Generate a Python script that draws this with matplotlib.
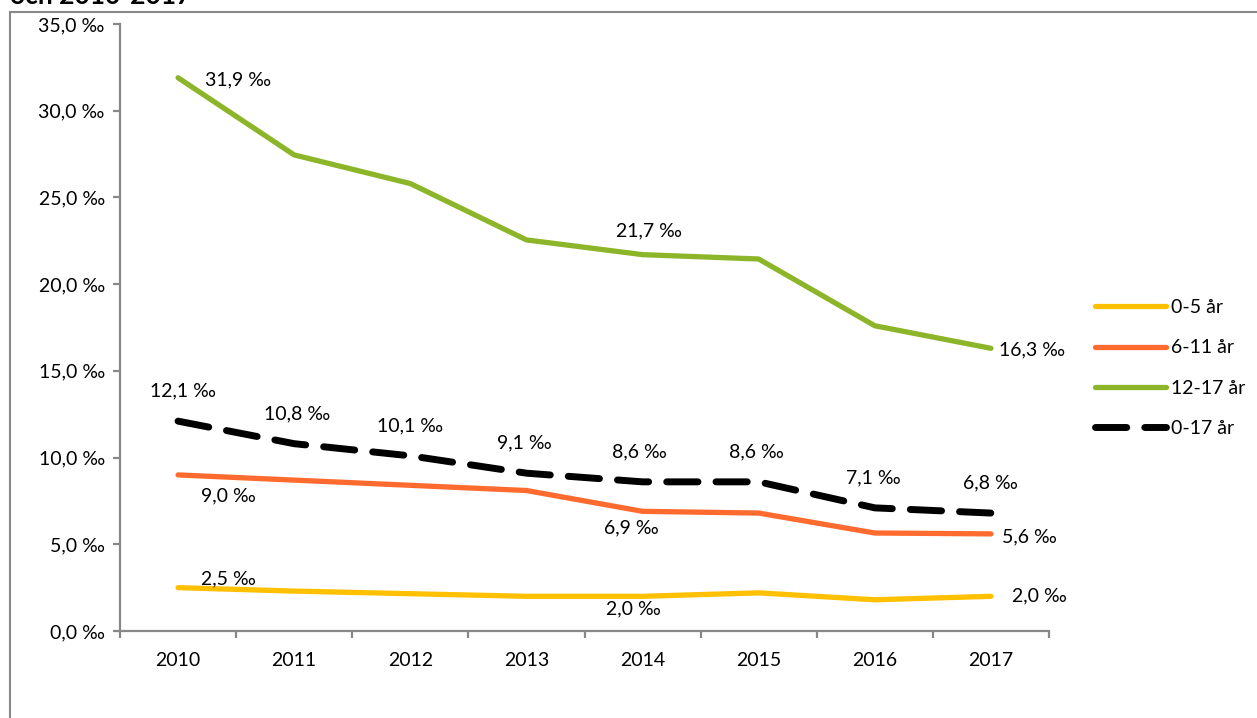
import matplotlib
matplotlib.use("Agg")
import matplotlib.pyplot as plt
from matplotlib.lines import Line2D

plt.rcParams['font.family'] = ['Lato', 'DejaVu Sans']

years = ['2010', '2011', '2012', '2013', '2014', '2015', '2016', '2017']
age_0_5 = [2.5, 2.3, 2.15, 2.0, 2.0, 2.2, 1.8, 2.0]
age_6_11 = [9.0, 8.7, 8.4, 8.1, 6.9, 6.8, 5.65, 5.6]
age_12_17 = [31.9, 27.45, 25.8, 22.55, 21.7, 21.45, 17.6, 16.3]
age_0_17 = [12.1, 10.8, 10.1, 9.1, 8.6, 8.6, 7.1, 6.8]
series_names = ['0-5 år', '6-11 år', '12-17 år', '0-17 år']
yticks = [0, 5, 10, 15, 20, 25, 30, 35]

def fmt(v):
    return f"{v:.1f}".replace('.', ',') + " ‰"

W, H = 1257, 718
fig = plt.figure(figsize=(W / 100, H / 100), dpi=100)
ax = fig.add_axes([120 / W, (H - 631) / H, (1049 - 120) / W, (631 - 24) / H])

x = list(range(len(years)))
c_yel = '#FFC000'
c_org = '#FF6B2E'
c_grn = '#8DB52A'

l1, = ax.plot(x, age_0_5, color=c_yel, lw=3.8, solid_capstyle='round', label=series_names[0])
l2, = ax.plot(x, age_6_11, color=c_org, lw=3.8, solid_capstyle='round', label=series_names[1])
l3, = ax.plot(x, age_12_17, color=c_grn, lw=3.8, solid_capstyle='round', label=series_names[2])
l4, = ax.plot(x, age_0_17, color='black', lw=5, dashes=(4.5, 2.6), dash_capstyle='round',
              label=series_names[3])

fs = 14
def lab(xi, v, dx, dy, ha='center', va='center'):
    ax.annotate(fmt(v), (xi, v), xytext=(dx, dy), textcoords='offset pixels',
                ha=ha, va=va, fontsize=fs, color='black')

# 12-17
lab(0, age_12_17[0], 27, -2, ha='left')
lab(4, age_12_17[4], 6, 24)
lab(7, age_12_17[7], 8, -2, ha='left')
# 0-17 (all above)
dxs = [5, 3, 0, -2, -3, -2, -1, -1]
for i, v in enumerate(age_0_17):
    lab(i, v, dxs[i], 30)
# 6-11
lab(0, age_6_11[0], 50, -21)
lab(4, age_6_11[4], -11, -17)
lab(7, age_6_11[7], 11, -3, ha='left')
# 0-5
lab(0, age_0_5[0], 50, 9)
lab(4, age_0_5[4], -9, -13)
lab(7, age_0_5[7], 21, 0, ha='left')

ax.set_xlim(-0.5, 7.5)
ax.set_ylim(0, 35)
ax.set_yticks(yticks)
ax.set_yticklabels([fmt(t) for t in yticks])
ax.set_xticks([i - 0.5 for i in range(len(years) + 1)])
ax.set_xticklabels([])
ax.set_xticks(x, minor=True)
ax.set_xticklabels(years, minor=True)

gray = '#888888'
for s in ['top', 'right']:
    ax.spines[s].set_visible(False)
for s in ['left', 'bottom']:
    ax.spines[s].set_color(gray)
    ax.spines[s].set_linewidth(1.6)
ax.tick_params(axis='y', which='major', length=5, width=1.6, color=gray, pad=6,
               labelsize=fs, direction='out')
ax.tick_params(axis='x', which='major', length=5, width=1.6, color=gray, direction='out')
ax.tick_params(axis='x', which='minor', length=0, pad=15, labelsize=fs)

leg = fig.legend(handles=[l1, l2, l3, l4], loc='center left',
                 bbox_to_anchor=(1077 / W, 1 - 368 / H), frameon=False,
                 fontsize=fs, handlelength=3.7, handletextpad=0.25, labelspacing=1.2)

# outer chart frame (cropped)
fig.add_artist(Line2D([10 / W, 10 / W], [0, 1 - 12 / H], color=gray, lw=1.5))
fig.add_artist(Line2D([10 / W, 1], [1 - 12 / H, 1 - 12 / H], color=gray, lw=1.5))

# clipped title (cut off at the top edge, as in the source)
fig.text(10 / W, 1 - 4 / H, 'och 2010-2017', fontsize=19, fontweight='bold',
         ha='left', va='baseline')

fig.savefig('out.png', dpi=100)
